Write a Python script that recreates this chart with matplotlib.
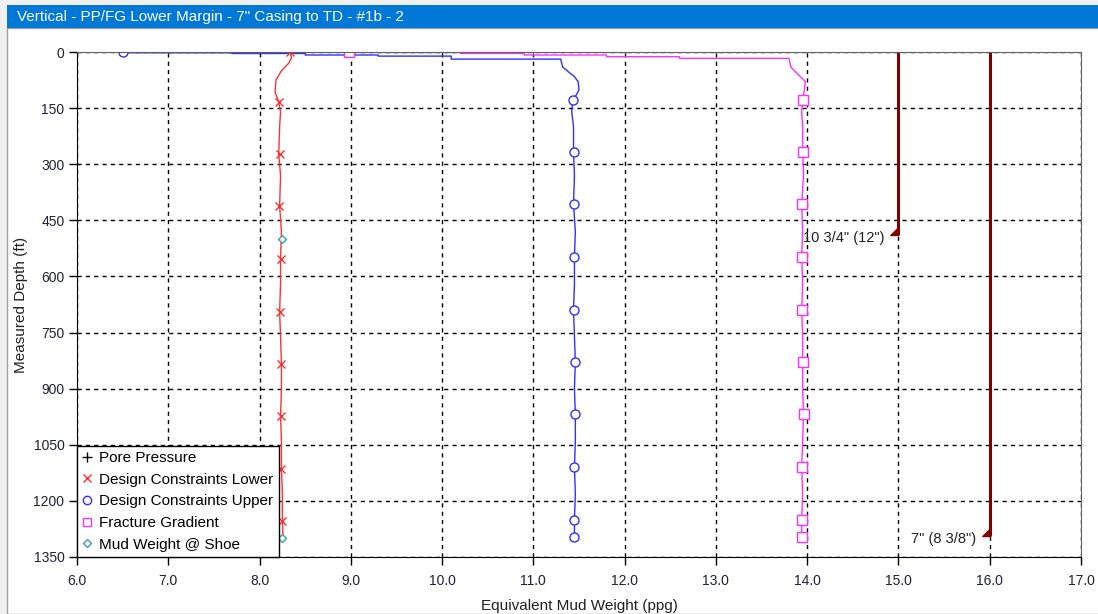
import numpy as np
import matplotlib
matplotlib.use("Agg")
import matplotlib.pyplot as plt
from matplotlib.patches import Rectangle
from matplotlib.lines import Line2D

plt.rcParams['font.family'] = ['Liberation Sans', 'DejaVu Sans']

title = 'Vertical - PP/FG Lower Margin - 7" Casing to TD - #1b - 2'

# pore pressure (only visible as short segments at surface)
pp_ppg = [6.9, 7.7, np.nan, 9.4, 10.2]
pp_md = [1, 1, np.nan, 1, 1]

# design constraints lower (red)
dcl_md = [0, 5, 15, 30, 50, 75, 107, 134, 160, 200, 273, 330, 412, 480, 553, 620,
          695, 760, 834, 900, 973, 1040, 1115, 1180, 1254, 1308]
dcl_ppg = [8.33, 8.34, 8.35, 8.32, 8.24, 8.18, 8.17, 8.21, 8.23, 8.22, 8.21, 8.23,
           8.22, 8.24, 8.23, 8.23, 8.22, 8.23, 8.24, 8.24, 8.23, 8.24, 8.24, 8.25,
           8.25, 8.26]
dcl_mk_md = [0, 134, 273, 412, 553, 695, 834, 973, 1115, 1254]
dcl_mk_ppg = [8.33, 8.21, 8.22, 8.21, 8.23, 8.22, 8.24, 8.23, 8.24, 8.25]

# design constraints upper (blue)
dcu_md = [0, 2, 2, 4, 4, 8, 8, 11, 11, 19, 19, 40, 66, 79, 101, 115, 128, 160,
          200, 268, 330, 407, 480, 548, 620, 690, 760, 829, 900, 968, 1040, 1109,
          1180, 1251, 1296]
dcu_ppg = [6.5, 6.6, 7.7, 7.7, 8.5, 8.5, 9.3, 9.3, 10.1, 10.1, 11.3, 11.32, 11.45,
           11.49, 11.5, 11.47, 11.43, 11.42, 11.44, 11.44, 11.45, 11.44, 11.46,
           11.45, 11.45, 11.44, 11.45, 11.46, 11.45, 11.46, 11.46, 11.45, 11.46,
           11.45, 11.45]
dcu_mk_md = [0, 128, 268, 407, 548, 690, 829, 968, 1109, 1251, 1296]
dcu_mk_ppg = [6.5, 11.43, 11.44, 11.44, 11.45, 11.44, 11.46, 11.46, 11.45, 11.45, 11.45]

# fracture gradient (magenta)
fg_md = [0, 1, 1, 4, 4, 8, 8, 12.5, 12.5, 17, 17, 40, 60, 79, 100, 128, 160, 200,
         268, 330, 407, 480, 548, 620, 690, 760, 829, 900, 968, 1040, 1109, 1180,
         1251, 1296]
fg_ppg = [8.98, 9.0, 10.2, 10.2, 10.9, 10.9, 11.8, 11.8, 12.6, 12.6, 13.8, 13.82,
          13.9, 13.98, 13.97, 13.95, 13.94, 13.95, 13.95, 13.96, 13.94, 13.95,
          13.94, 13.95, 13.94, 13.95, 13.95, 13.95, 13.96, 13.95, 13.94, 13.95,
          13.94, 13.94]
fg_mk_md = [0, 128, 268, 407, 548, 690, 829, 968, 1109, 1251, 1296]
fg_mk_ppg = [8.98, 13.95, 13.95, 13.94, 13.94, 13.94, 13.95, 13.96, 13.94, 13.94, 13.94]

# mud weight at shoe
mw_md = [500, 1300]
mw_ppg = [8.25, 8.25]

# casings
csg_ppg = [15.0, 16.0]
csg_shoe = [490, 1295]
csg_label = ['10 3/4" (12")', '7" (8 3/8")']

fig = plt.figure(figsize=(10.98, 6.14), dpi=100)
fig.patch.set_facecolor('white')

# window title bar
fig.patches.append(Rectangle((0, 0), 1, 1, transform=fig.transFigure, facecolor='#f0f0f0',
                             edgecolor='none', zorder=-2))
fig.patches.append(Rectangle((7 / 1098, 0), 1, 586 / 614, transform=fig.transFigure,
                             facecolor='white', edgecolor='#a0a0a0', lw=1, zorder=-1))
fig.patches.append(Rectangle((7 / 1098, 586 / 614), 1, 23 / 614, transform=fig.transFigure,
                             facecolor='#0078d7', edgecolor='none', zorder=0))
fig.text(17 / 1098, 597 / 614, title, color='white', fontsize=11, va='center', ha='left')

ax = fig.add_axes([77 / 1098, 57 / 614, 1004 / 1098, 505 / 614])

ax.plot(pp_ppg, pp_md, color='black', lw=1.5, alpha=0.75)
ax.plot(dcl_ppg, dcl_md, color='#ff3030', lw=1)
ax.plot(dcu_ppg, dcu_md, color='#3030ff', lw=1)
ax.plot(fg_ppg, fg_md, color='#ff30ff', lw=1)

ax.plot(dcl_mk_ppg, dcl_mk_md, ls='none', marker='x', ms=6, mew=1, color='#ff3030')
ax.plot(dcu_mk_ppg, dcu_mk_md, ls='none', marker='o', ms=6.5, mew=1, mfc='white', mec='#3030ff')
ax.plot(fg_mk_ppg, fg_mk_md, ls='none', marker='s', ms=6.5, mew=1, mfc='white', mec='#ff30ff')
ax.plot(mw_ppg, mw_md, ls='none', marker='D', ms=4.5, mew=1, mfc='white', mec='#40a0a0')

shoe = [(0, 0), (0, 1), (-1, 0), (0, 0)]
for x, d, lab in zip(csg_ppg, csg_shoe, csg_label):
    ax.plot([x, x], [0, d], color='#800000', lw=2.2, solid_capstyle='butt')
    ax.plot([x], [d], ls='none', marker=shoe, ms=11, color='#800000')
    ax.text(x - 0.15, d + 6, lab, ha='right', va='center', fontsize=10.5, color='#202020')

ax.set_xlim(6, 17)
ax.set_ylim(1350, 0)
ax.set_xticks(np.arange(6, 17.1, 1))
ax.set_xticklabels(['%.1f' % v for v in np.arange(6, 17.1, 1)])
ax.set_yticks(np.arange(0, 1351, 150))
ax.grid(True, color='black', ls=(0, (3, 3)), lw=1)
ax.tick_params(direction='out', length=6, width=1, labelsize=10, colors='black',
               labelcolor='#202038')
ax.tick_params(axis='x', pad=6)
ax.tick_params(axis='y', pad=3)
for s in ['left', 'bottom']:
    ax.spines[s].set_color('black')
for s in ['top', 'right']:
    ax.spines[s].set_color('#606060')

ax.set_xlabel('Equivalent Mud Weight (ppg)', fontsize=11, labelpad=8, color='#202020')
ax.set_ylabel('Measured Depth (ft)', fontsize=11, labelpad=4, color='#202020')

handles = [
    Line2D([], [], ls='none', marker='+', ms=7, mew=1, color='black'),
    Line2D([], [], ls='none', marker='x', ms=6, mew=1, color='#ff3030'),
    Line2D([], [], ls='none', marker='o', ms=6, mew=1, mfc='white', mec='#3030ff'),
    Line2D([], [], ls='none', marker='s', ms=6, mew=1, mfc='white', mec='#ff30ff'),
    Line2D([], [], ls='none', marker='D', ms=4.5, mew=1, mfc='white', mec='#40a0a0'),
]
labels = ['Pore Pressure', 'Design Constraints Lower', 'Design Constraints Upper',
          'Fracture Gradient', 'Mud Weight @ Shoe']
leg = ax.legend(handles, labels, loc='lower left', borderaxespad=0, fancybox=False,
                edgecolor='black', framealpha=1, fontsize=11, handlelength=0.6,
                handletextpad=0.5, labelspacing=0.5, borderpad=0.35)
leg.get_frame().set_linewidth(1)

fig.savefig('out.png', dpi=100)
